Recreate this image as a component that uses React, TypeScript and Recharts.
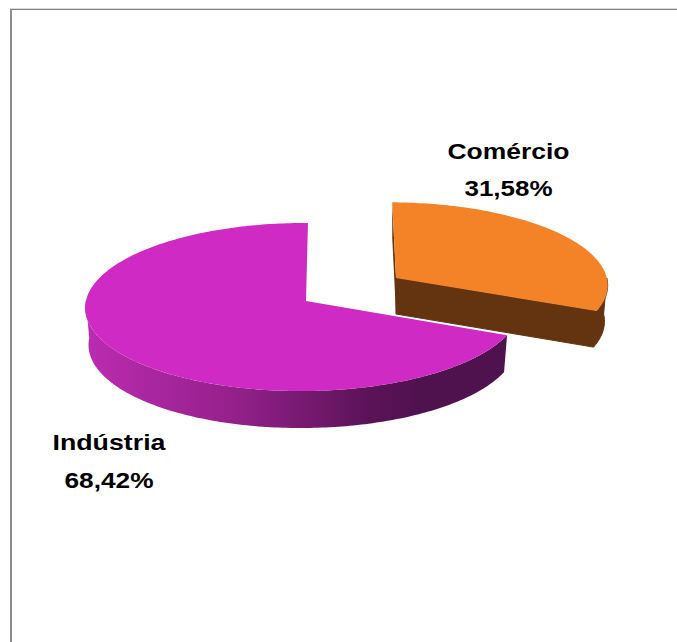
import React from "react";
import { PieChart, Pie } from "recharts";

const sectors = ["Comércio", "Indústria"];
const shares = [31.58, 68.42];
const shareLabels = ["31,58%", "68,42%"];

const WIDTH = 677;
const HEIGHT = 642;
const RX = 217;
const RY = 83.6;
const DEPTH = 37;
const BASE_NARROWING = 0.985;
const FAR_SHRINK = 0.0714;
const RIGHT_SHRINK = 0.014;

// Per-slice apex, shear of the receding axis, scale and colours of the disc.
const sliceStyle = [
  { apexX: 396, apexY: 278, shear: 0.05, scaleX: 0.985, scaleY: 0.97, depth: 36, top: "#F48328", side: "#63340F", sideFill: "#63340F" },
  { apexX: 306, apexY: 301, shear: -0.025, scaleX: 1, scaleY: 1, depth: DEPTH, top: "#CF2AC3", side: "#50114F", sideFill: "url(#purpleWall)" },
];

// Label boxes: horizontal centre, baselines and stretched text widths.
const labelStyle = [
  { x: 508.5, nameY: 159, valueY: 196, nameW: 122, valueW: 88 },
  { x: 109, nameY: 450, valueY: 488, nameW: 113, valueW: 89 },
];

const RAD = Math.PI / 180;

type Slice = (typeof sliceStyle)[number];

function project(angle: number, st: Slice, base = false): [number, number] {
  const c = Math.cos(angle * RAD);
  const s = Math.sin(angle * RAD);
  const w = 1 + FAR_SHRINK * s + RIGHT_SHRINK * c;
  const x = (RX * st.scaleX * c) / w;
  const y = (-RY * st.scaleY * s) / w;
  const narrowing = base ? BASE_NARROWING : 1;
  return [st.apexX + (x + st.shear * y) * narrowing, st.apexY + y + (base ? st.depth : 0)];
}

function arcPoints(from: number, to: number, st: Slice, base = false) {
  const n = Math.max(2, Math.ceil(Math.abs(to - from)));
  const pts: string[] = [];
  for (let i = 0; i <= n; i += 1) {
    const [x, y] = project(from + ((to - from) * i) / n, st, base);
    pts.push(`${x.toFixed(2)} ${y.toFixed(2)}`);
  }
  return pts;
}

// Draws one slice as a tilted disc wedge, using the angles Recharts computed.
function WedgeShape(props: any) {
  const index = sectors.indexOf(props.name ?? props.payload?.name);
  const st = sliceStyle[index];
  const start: number = props.startAngle;
  const end: number = props.endAngle;

  const topOutline = `M${st.apexX} ${st.apexY} L${arcPoints(start, end, st).join(" L")} Z`;

  // The outer wall is visible only on the near half of the rim.
  const wallFrom = start > 0 ? 0 : start;
  const wallTo = Math.max(end, -180);
  const wallFront = arcPoints(wallFrom, wallTo, st);
  const wallBack = arcPoints(wallTo, wallFrom, st, true);
  const wall = `M${wallFront.join(" L")} L${wallBack.join(" L")} Z`;

  // Cut faces running from the apex down to the base of the disc.
  const face = (angle: number) => {
    const p = project(angle, st);
    const q = project(angle, st, true);
    return `M${st.apexX} ${st.apexY} L${p[0]} ${p[1]} L${q[0]} ${q[1]} L${st.apexX} ${st.apexY + st.depth} Z`;
  };

  return (
    <g>
      {index === 0 ? (
        <>
          <path d={wall} fill={st.sideFill} stroke={st.side} strokeWidth={1} />
          <path d={face(end)} fill={st.side} stroke={st.side} strokeWidth={1} />
          <path d={face(start)} fill={st.side} />
        </>
      ) : (
        <path d={wall} fill={st.sideFill} />
      )}
      <path d={topOutline} fill={st.top} />
    </g>
  );
}

const chartData = sectors.map((name, i) => ({ name, value: shares[i] }));

function SliceLabel(props: any) {
  const i = sectors.indexOf(props.name ?? props.payload?.name);
  const l = labelStyle[i];
  const textProps = {
    textAnchor: "middle" as const,
    fontFamily: "'Liberation Sans', Arial, sans-serif",
    fontWeight: 700,
    fontSize: 22,
    fill: "#000000",
    lengthAdjust: "spacingAndGlyphs" as const,
  };
  return (
    <g>
      <text x={l.x} y={l.nameY} textLength={l.nameW} {...textProps}>
        {sectors[i]}
      </text>
      <text x={l.x} y={l.valueY} textLength={l.valueW} {...textProps}>
        {shareLabels[i]}
      </text>
    </g>
  );
}

export default function App() {
  return (
    <div style={{ position: "absolute", left: 0, top: 0, width: WIDTH, height: HEIGHT, background: "#fff", overflow: "hidden" }}>
      <div style={{ position: "absolute", left: 10, top: 8, width: WIDTH, height: 1, background: "#DADADA" }} />
      <div style={{ position: "absolute", left: 10, top: 9, width: WIDTH, height: 1, background: "#808080" }} />
      <div style={{ position: "absolute", left: 10, top: 9, width: 2, height: HEIGHT, background: "#8C8C8C" }} />
      <div style={{ position: "absolute", left: 0, top: 0 }}>
        <PieChart width={WIDTH} height={HEIGHT} margin={{ top: 0, right: 0, bottom: 0, left: 0 }}>
          <defs>
            <linearGradient id="purpleWall" gradientUnits="userSpaceOnUse" x1="88" y1="0" x2="420" y2="0">
              <stop offset="0" stopColor="#BA2BB0" />
              <stop offset="0.45" stopColor="#93208A" />
              <stop offset="0.85" stopColor="#5A1357" />
              <stop offset="1" stopColor="#50114F" />
            </linearGradient>
          </defs>
          <Pie
            data={chartData}
            dataKey="value"
            nameKey="name"
            cx={306}
            cy={301}
            outerRadius={RX}
            startAngle={90}
            endAngle={-270}
            stroke="none"
            shape={WedgeShape}
            label={SliceLabel}
            labelLine={false}
            isAnimationActive={false}
          />
        </PieChart>
      </div>
    </div>
  );
}
